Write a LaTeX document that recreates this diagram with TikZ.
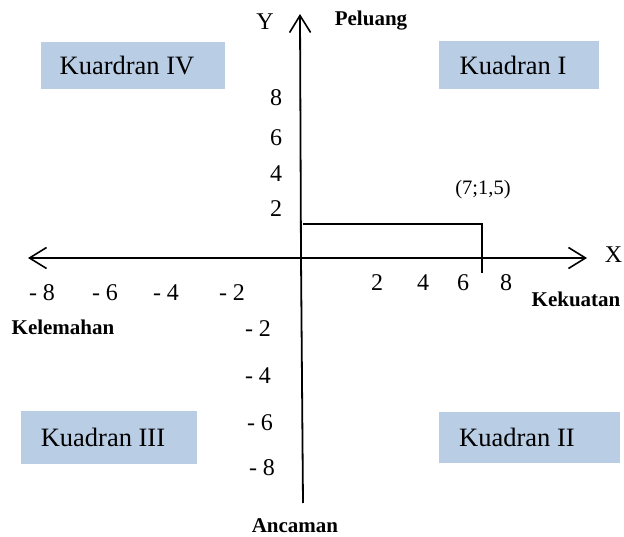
\documentclass[tikz,border=0pt]{standalone}
\usepackage{fontspec}
\setmainfont{Liberation Serif}
\usepackage{xcolor}
\definecolor{quadblue}{RGB}{185,205,229}
\usetikzlibrary{arrows.meta,positioning}

\begin{document}
\begin{tikzpicture}[
  x=1pt, y=-1pt,
  axis/.style={line width=1.8pt, -{Straight Barb[length=17pt, width=21pt, line width=1.6pt]}},
  posline/.style={line width=1.6pt},
  quad/.style={fill=quadblue, minimum width=#1, minimum height=48pt, inner sep=0pt, font=\fontsize{26.5}{29}\selectfont},
  num/.style={font=\fontsize{24}{26}\selectfont, inner sep=0pt},
  lbl/.style={font=\fontsize{21}{23}\selectfont\bfseries, inner sep=0pt},
]
\useasboundingbox (0,0) rectangle (624,537);

% --- axes -------------------------------------------------------------------
\coordinate (origin) at (301,258);
\coordinate (xl) at (28,258);
\coordinate (xr) at (587,258);
\coordinate (yt) at (300,14);
\coordinate (yb) at (303,503);
\draw[axis] (origin) -- (xr);
\draw[axis] (origin) -- (xl);
\draw[line width=1.8pt] (origin) -- (yb);
\draw[axis] (origin) -- (yt);

\node[num] (ylab) at (265,22) {Y};
\node[num] (xlab) at (613.5,255) {X};
\node[lbl] (peluang) at (371,21) {Peluang};
\node[lbl] (kekuatan) at (576,299) {Kekuatan};
\node[lbl] (kelemahan) at (63,327) {Kelemahan};
\node[lbl] (ancaman) at (295,526) {Ancaman};

% --- quadrant boxes ---------------------------------------------------------
\node[quad=184pt, minimum height=47pt] (q4) at (133,65.5) {\hspace*{-12pt}Kuardran IV};
\node[quad=160pt] (q1) at (519,65) {\hspace*{-12pt}Kuadran I};
\node[quad=176pt, minimum height=53pt] (q3) at (109,437.5) {\hspace*{-12pt}Kuadran III};
\node[quad=181pt, minimum height=51pt] (q2) at (529.5,437.5) {\hspace*{-25pt}Kuadran II};

% --- tick numbers -----------------------------------------------------------
\foreach \v/\y in {8/98, 6/138, 4/174, 2/209}
  \node[num] (yp\v) at (276,\y) {\v};
\foreach \v/\y/\x in {2/329/258, 4/376/258, 6/423/260, 8/468/262}
  \node[num] (yn\v) at (\x,\y) {- \v};
\foreach \v/\x in {2/377, 4/423, 6/463, 8/506}
  \node[num] (xp\v) at (\x,283) {\v};
\foreach \v/\x in {8/42, 6/105, 4/166, 2/232}
  \node[num] (xn\v) at (\x,293) {- \v};

% --- position (7;1,5) -------------------------------------------------------
\coordinate (p0) at (303,224);
\coordinate (pt) at (482,224);
\coordinate (pb) at (482,273);
\draw[posline] (p0) -- (pt) -- (pb);
\node[font=\fontsize{20.5}{22}\selectfont, inner sep=0pt] (pos) at (483,190) {(7;1,5)};
\end{tikzpicture}
\end{document}
